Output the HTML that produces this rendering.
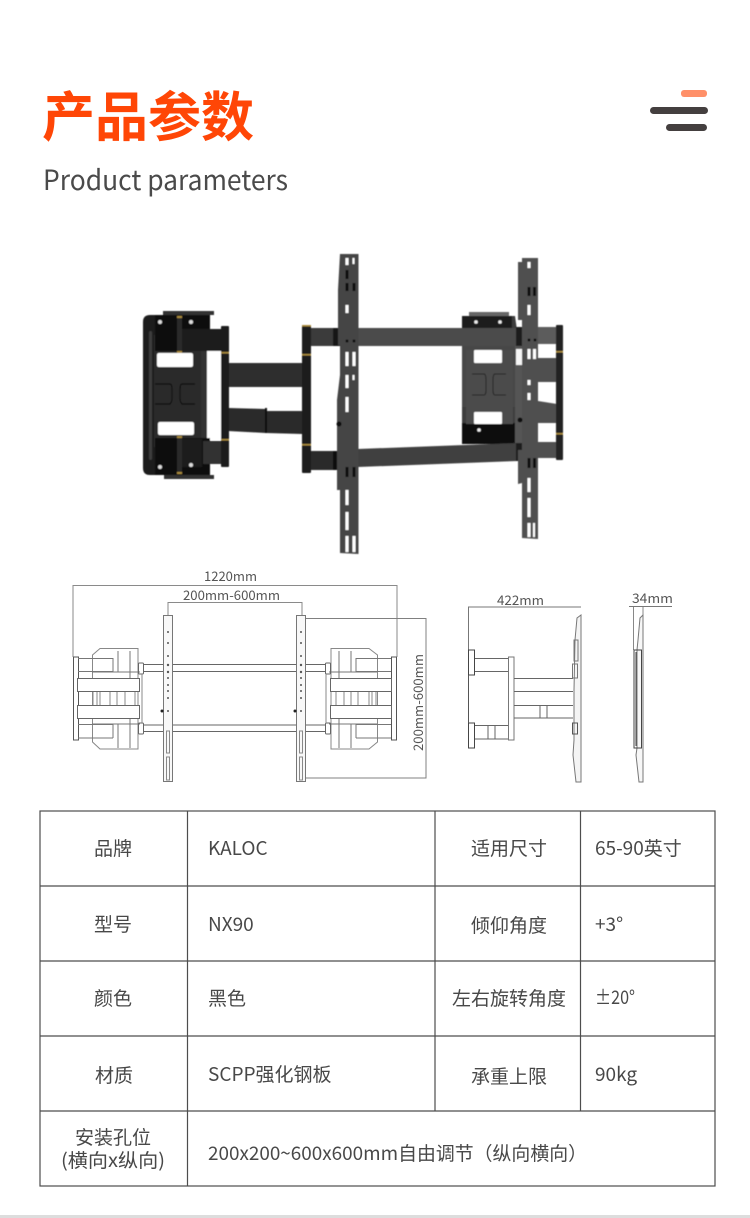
<!DOCTYPE html>
<html><head><meta charset="utf-8"><style>
html,body{margin:0;padding:0;background:#fff}
svg{display:block}
text{font-family:"Noto Sans CJK SC","Liberation Sans",sans-serif}
</style></head><body>
<svg width="750" height="1218" viewBox="0 0 750 1218" xmlns="http://www.w3.org/2000/svg">
<rect width="750" height="1218" fill="#fff"/>
<rect y="1215" width="750" height="3" fill="#ddd"/>
<!-- Header -->
<text x="42" y="136" font-size="53.5" font-weight="700" fill="#ff4606" textLength="212" lengthAdjust="spacingAndGlyphs">产品参数</text>
<text x="43" y="190" font-size="28" fill="#4a4a4a" textLength="245" lengthAdjust="spacingAndGlyphs">Product parameters</text>
<rect x="681" y="90" width="26" height="7" rx="3" fill="#ff9069"/>
<rect x="650" y="107" width="58" height="7" rx="3.5" fill="#443f3f"/>
<rect x="666" y="124" width="41" height="7" rx="3.5" fill="#443f3f"/>

<defs><filter id="b1"><feGaussianBlur stdDeviation="0.45"/></filter><filter id="b2"><feGaussianBlur stdDeviation="0.35"/></filter></defs>
<!-- Product photo -->
<g filter="url(#b1)">
<!-- right plate -->
<path d="M468 316H515L517 330V443H462V318Z" fill="#3d3d3d"/>
<rect x="469" y="312" width="40" height="5" fill="#666"/>
<rect x="462" y="345" width="55" height="62" fill="#464646"/>
<rect x="462" y="423" width="55" height="21" fill="#111"/>
<rect x="466" y="350" width="47" height="74" fill="#4b4b4b"/>
<rect x="474" y="350" width="28" height="13" rx="1" fill="#fff"/>
<rect x="474" y="412" width="28" height="12" rx="1" fill="#fff"/>
<path d="M472 374H484Q486 374 486 380V390Q486 395 484 395H472M506 374H495Q493 374 493 380V390Q493 395 495 395H506" fill="none" stroke="#222" stroke-width="1"/>
<rect x="462" y="316" width="50" height="12" fill="#1b1b1b"/>
<circle cx="476" cy="322" r="1.8" fill="#eee"/><circle cx="500" cy="322" r="1.8" fill="#eee"/>
<circle cx="479" cy="430" r="1.8" fill="#eee"/>
<!-- right side arms -->
<rect x="515" y="346" width="8" height="97" fill="#555"/>
<rect x="516" y="349" width="6" height="16" fill="#f5f5f5"/>
<rect x="538" y="358" width="19" height="24" fill="#4f4f4f"/>
<path d="M538 401L557 404V423H538Z" fill="#4f4f4f"/>
<rect x="538" y="327" width="20" height="17" fill="#5c5c5c"/>
<rect x="538" y="442" width="20" height="16" fill="#505050"/>
<rect x="556" y="325" width="7" height="135" rx="1" fill="#222"/>
<rect x="556" y="351" width="7" height="1.5" fill="#a98a3c"/>
<rect x="556" y="433" width="7" height="1.5" fill="#a98a3c"/>
<!-- crossbars -->
<rect x="311" y="328" width="31" height="18" fill="#3a3a3a"/>
<rect x="333" y="328" width="7" height="18" fill="#151515"/>
<rect x="311" y="451" width="31" height="19" fill="#2a2a2a"/>
<rect x="333" y="451" width="7" height="19" fill="#111"/>
<rect x="358" y="328" width="160" height="18" fill="#4b4b4b"/>
<path d="M358 449L518 443V461L358 467Z" fill="#414141"/>
<rect x="516" y="327" width="8" height="19" fill="#1a1a1a"/>
<rect x="516" y="443" width="8" height="18" fill="#1a1a1a"/>
<!-- left plate -->
<path d="M150 315H207V475H150Q143 475 143 468V322Q143 315 150 315Z" fill="#1c1c1c"/>
<rect x="163" y="311" width="51" height="4" fill="#333"/>
<rect x="164" y="475" width="50" height="4" fill="#333"/>
<rect x="154" y="335" width="53" height="112" fill="#2c2c2c"/>
<rect x="157" y="353" width="36" height="14" rx="2" fill="#fff"/>
<rect x="158" y="422" width="36" height="13" rx="2" fill="#fff"/>
<rect x="207" y="351" width="14" height="89" fill="#fff"/>
<rect x="201" y="330" width="6" height="138" fill="#333"/>
<path d="M155 384H170Q172 384 172 390V398Q172 402 170 404H155M195 384H182Q180 384 180 390V398Q180 402 182 404H195" fill="none" stroke="#0f0f0f" stroke-width="1.2"/>
<rect x="155" y="315" width="55" height="36" fill="#111"/>
<rect x="155" y="438" width="55" height="37" fill="#111"/>
<rect x="177" y="329" width="45" height="22" fill="#1d1d1d"/>
<rect x="177" y="439" width="25" height="28" fill="#1d1d1d"/>
<rect x="203" y="441" width="18" height="23" fill="#333"/>
<rect x="177" y="316" width="5" height="37" fill="#2a2a2a"/>
<rect x="177" y="436" width="5" height="38" fill="#2a2a2a"/>
<rect x="177" y="316" width="5" height="2" fill="#a98a3c"/><rect x="177" y="351" width="5" height="2" fill="#a98a3c"/>
<rect x="177" y="436" width="5" height="2" fill="#a98a3c"/><rect x="177" y="472" width="5" height="2" fill="#a98a3c"/>
<circle cx="160" cy="322" r="2" fill="#ddd"/><circle cx="191" cy="322" r="2" fill="#ddd"/>
<circle cx="160" cy="467" r="2" fill="#ddd"/><circle cx="191" cy="465" r="2" fill="#ddd"/>
<rect x="149" y="331" width="3" height="129" rx="1.5" fill="#3d3d3d"/>
<!-- left arms -->
<rect x="228" y="363" width="75" height="24" fill="#2f2f2f"/>
<path d="M228 408L266 409V411L303 411V434L266 433L228 431Z" fill="#292929"/>
<rect x="265" y="408" width="2" height="25" fill="#111"/>
<rect x="221" y="326" width="8" height="141" rx="1" fill="#1a1a1a"/>
<rect x="302" y="325" width="9" height="148" rx="1" fill="#1c1c1c"/>
<rect x="221" y="352" width="8" height="1.5" fill="#a98a3c"/><rect x="221" y="439" width="8" height="1.5" fill="#a98a3c"/>
<rect x="302" y="354" width="9" height="1.5" fill="#a98a3c"/><rect x="302" y="444" width="9" height="1.5" fill="#a98a3c"/>
<rect x="302" y="325" width="9" height="1.5" fill="#a98a3c"/>
<!-- wall bars -->
<path d="M340 254H358.500V554L340 553V490L337 490V400L340 375V345L338 345V290Z" fill="#444"/>
<path d="M522 258H538V539L522 538V483L518 484V450H522V320H518V262H522Z" fill="#4f4f4f"/>
<g fill="#fff">
<rect x="345.500" y="258" width="3" height="7"/><rect x="345.500" y="305" width="3" height="8"/><rect x="345.500" y="352" width="3" height="14"/><rect x="345.500" y="375" width="3" height="13"/><rect x="345.500" y="397" width="3" height="15"/><rect x="345.500" y="490" width="3" height="15"/><rect x="345.500" y="512" width="3" height="18"/><rect x="345.500" y="536" width="3" height="16"/>
<rect x="352.500" y="352" width="3" height="14"/><rect x="352.500" y="536" width="3" height="16"/><rect x="352.500" y="375" width="2" height="5"/><rect x="352.500" y="258" width="2" height="6"/>
<rect x="527.500" y="262" width="3" height="6"/><rect x="527.500" y="305" width="3" height="10"/><rect x="527.500" y="349" width="3" height="10"/><rect x="527.500" y="380" width="3" height="5"/><rect x="527.500" y="393" width="3" height="7"/><rect x="527.500" y="478" width="3" height="14"/><rect x="527.500" y="498" width="3" height="19"/><rect x="527.500" y="523" width="3" height="14"/>
<rect x="533" y="349" width="3" height="10"/><rect x="533" y="523" width="2" height="14"/>
</g>
<g fill="#111">
<rect x="345.500" y="270" width="3" height="9"/><rect x="352.500" y="283" width="3" height="8"/><rect x="345.500" y="283" width="3" height="8"/><rect x="345.500" y="467" width="3" height="10"/><rect x="352.500" y="467" width="3" height="10"/>
<rect x="527.500" y="287" width="3" height="9"/><rect x="533" y="287" width="3" height="9"/><rect x="527.500" y="458" width="3" height="10"/><rect x="533" y="458" width="3" height="10"/>
<circle cx="347" cy="341" r="1.500"/><circle cx="354" cy="341" r="1.500"/><circle cx="529" cy="340" r="1.500"/><circle cx="535" cy="340" r="1.500"/>
<circle cx="339" cy="424" r="2.500"/><circle cx="520" cy="420" r="2.500"/>
</g>
</g>

<!-- Technical drawings -->
<g filter="url(#b2)" fill="none" stroke="#808080" stroke-width="1">
<path d="M73 657V585.500H397V657" stroke="#8a8a8a"/>
<path d="M168 615V602.500H302V615" stroke="#8a8a8a"/>
<path d="M306 618.500H426V778H306"/>
<!-- panels -->
<rect x="163.500" y="615.500" width="9" height="166" fill="#f8f8f8" stroke="#777"/>
<rect x="296.500" y="615.500" width="9" height="166" fill="#f8f8f8" stroke="#777"/>
<path d="M173 664.500H296M173 671.500H296M173 725H296M173 731.500H296M144 664.500H163M144 671.500H163M144 725H163M144 731.500H163M306 664.500H325M306 671.500H325M306 725H325M306 731.500H325" stroke="#666"/>
<g fill="#555" stroke="none">
<circle cx="168" cy="632" r="1"/><circle cx="168" cy="643" r="1"/><circle cx="168" cy="656" r="1"/><circle cx="168" cy="665" r="1.200"/><circle cx="168" cy="672" r="1.200"/><circle cx="168" cy="678" r="1"/><circle cx="168" cy="685" r="1"/><circle cx="168" cy="691" r="1"/><circle cx="168" cy="698" r="1"/><circle cx="168" cy="711" r="1"/>
<circle cx="301" cy="632" r="1"/><circle cx="301" cy="643" r="1"/><circle cx="301" cy="656" r="1"/><circle cx="301" cy="665" r="1.200"/><circle cx="301" cy="672" r="1.200"/><circle cx="301" cy="678" r="1"/><circle cx="301" cy="685" r="1"/><circle cx="301" cy="691" r="1"/><circle cx="301" cy="698" r="1"/><circle cx="301" cy="711" r="1"/>
<circle cx="162" cy="711" r="1.500" fill="#222"/><circle cx="295" cy="711" r="1.500" fill="#222"/>
</g>
<path d="M166.500 731H169.500V753H166.500ZM166.500 757H169.500V780H166.500ZM299.500 731H302.500V753H299.500ZM299.500 757H302.500V780H299.500Z" stroke="#888"/>
<!-- left assembly -->
<path d="M138 648.500H100L92.500 655V742L100 749H138Z" stroke="#888"/>
<rect x="73.500" y="657" width="5" height="83" stroke="#555"/>
<path d="M78 658.500H113M78 671.500H113M78 724.500H113M78 738H113M113 658V672M113 724V738M118 651V672M118 724V748M130 651V680M130 716V748M92 672H140M92 724H140" stroke="#777"/>
<rect x="77.500" y="678.500" width="62" height="13" fill="#fff" stroke="#666"/>
<rect x="77.500" y="705.500" width="62" height="13" fill="#fff" stroke="#666"/>
<path d="M93 692V705M97 692V705M100 692V705M110 692V705M117 692V705M125 692V705M135 692V705" stroke="#888"/>
<rect x="138.500" y="663" width="5" height="11" stroke="#666" rx="1"/>
<rect x="138.500" y="723" width="5" height="11" stroke="#666" rx="1"/>
<path d="M142 674V723" stroke="#888"/>
<!-- right assembly -->
<path d="M331 648.500H369L377.500 655V742L369 749H331Z" stroke="#888"/>
<rect x="391.500" y="657" width="5" height="83" stroke="#555"/>
<path d="M391 658.500H356M391 671.500H356M391 724.500H356M391 738H356M356 658V672M356 724V738M351 651V672M351 724V748M339 651V680M339 716V748M329 672H377M329 724H377" stroke="#777"/>
<rect x="330.500" y="678.500" width="61" height="13" fill="#fff" stroke="#666"/>
<rect x="330.500" y="705.500" width="61" height="13" fill="#fff" stroke="#666"/>
<path d="M336 692V705M344 692V705M351 692V705M358 692V705M369 692V705M372 692V705M376 692V705" stroke="#888"/>
<rect x="325.500" y="663" width="5" height="11" stroke="#666" rx="1"/>
<rect x="325.500" y="723" width="5" height="11" stroke="#666" rx="1"/>
<path d="M326 674V723" stroke="#888"/>
<!-- side view -->
<path d="M468.500 650V607H581" stroke="#777"/>
<path d="M581 615V782H576L573 755L574 740V690L575 640L577 618Z" fill="#f4f4f4" stroke="#777"/>
<rect x="468.500" y="650" width="6" height="25" stroke="#444"/>
<rect x="468.500" y="723" width="6" height="25" stroke="#444"/>
<path d="M468.500 675V723" stroke="#555"/>
<path d="M475 658.500H509M475 671.500H509M475 725.500H509M475 739H509M488 725V739M495 725V739" stroke="#666"/>
<rect x="508.500" y="657" width="5.500" height="83" stroke="#777"/>
<path d="M514 678.500H573M514 691.500H573M514 705.500H573M514 718H573M540 705V718M547 705V718" stroke="#666"/>
<rect x="572.500" y="664" width="5" height="14" stroke="#777"/>
<rect x="572.500" y="723" width="5" height="11" stroke="#555"/>
<path d="M574 640H578V661H574Z" stroke="#777"/>
<!-- thin view -->
<path d="M629 606.500H672" stroke="#777"/>
<path d="M633.500 607V650M643 607V615" stroke="#888"/>
<path d="M643 615V782H639L636 755L637 748V650L638 640L640 618Z" fill="#f7f7f7" stroke="#777"/>
<rect x="634" y="650" width="7.500" height="98" stroke="#444"/>
<path d="M636 652V746" stroke="#444"/>
</g>
<g font-size="13" fill="#555">
<text x="204" y="581" textLength="53" lengthAdjust="spacingAndGlyphs">1220mm</text>
<text x="183" y="600" textLength="97" lengthAdjust="spacingAndGlyphs">200mm-600mm</text>
<text x="497" y="605" textLength="47" lengthAdjust="spacingAndGlyphs">422mm</text>
<text x="632" y="603" textLength="41" lengthAdjust="spacingAndGlyphs">34mm</text>
<text transform="translate(423 751) rotate(-90)" textLength="97" lengthAdjust="spacingAndGlyphs">200mm-600mm</text>
</g>

<!-- Table -->
<g fill="none" stroke="#4d4d4d" stroke-width="1.200">
<rect x="40" y="811" width="675" height="375"/>
<path d="M40 886H715M40 961H715M40 1036H715M40 1111H715"/>
<path d="M187.500 811V1186M435 811V1111M580.500 811V1111"/>
</g>
<g font-size="19" fill="#484848">
<text x="113" y="855" text-anchor="middle">品牌</text>
<text x="113" y="931" text-anchor="middle">型号</text>
<text x="113" y="1005" text-anchor="middle">颜色</text>
<text x="114" y="1082" text-anchor="middle">材质</text>
<text x="113" y="1144" text-anchor="middle">安装孔位</text>
<text x="113" y="1167" text-anchor="middle" textLength="104" lengthAdjust="spacingAndGlyphs">(横向x纵向)</text>
<text x="208" y="855">KALOC</text>
<text x="208" y="931">NX90</text>
<text x="208" y="1005">黑色</text>
<text x="208" y="1081">SCPP强化钢板</text>
<text x="208" y="1160" textLength="379" lengthAdjust="spacingAndGlyphs">200x200~600x600mm自由调节（纵向横向）</text>
<text x="509" y="855" text-anchor="middle">适用尺寸</text>
<text x="509" y="932" text-anchor="middle">倾仰角度</text>
<text x="509" y="1005" text-anchor="middle" textLength="114" lengthAdjust="spacing">左右旋转角度</text>
<text x="509" y="1083" text-anchor="middle">承重上限</text>
<text x="595" y="855">65-90英寸</text>
<text x="595" y="931">+3°</text>
<text x="595" y="1004" textLength="40" lengthAdjust="spacingAndGlyphs">±20°</text>
<text x="595" y="1081">90kg</text>
</g>
</svg>
</body></html>
